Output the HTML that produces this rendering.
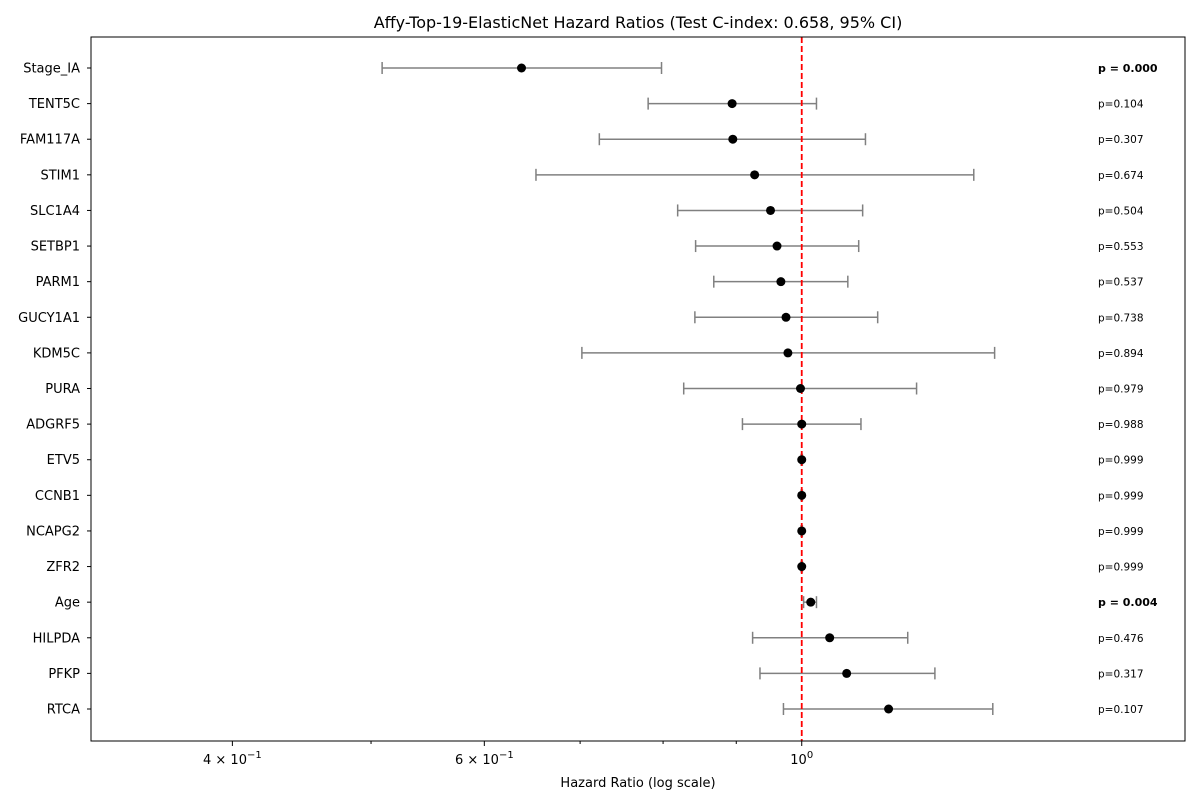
<!DOCTYPE html>
<html><head><meta charset="utf-8"><style>
body{margin:0;background:#fff;font-family:"DejaVu Sans","Liberation Sans",sans-serif;}
svg text{font-family:"DejaVu Sans","Liberation Sans",sans-serif;}
</style></head><body>
<svg id="chart" width="1200" height="800" viewBox="0 0 1200 800" xmlns="http://www.w3.org/2000/svg">
<text x="638" y="28" font-size="16" text-anchor="middle">Affy-Top-19-ElasticNet Hazard Ratios (Test C-index: 0.658, 95% CI)</text>
<text x="638" y="787" font-size="13" text-anchor="middle">Hazard Ratio (log scale)</text>
<g id="plot"></g>
<rect x="91" y="37" width="1094" height="704" fill="none" stroke="#000" stroke-width="1"/>
</svg>
<script>
const features=["Stage_IA","TENT5C","FAM117A","STIM1","SLC1A4","SETBP1","PARM1","GUCY1A1","KDM5C","PURA","ADGRF5","ETV5","CCNB1","NCAPG2","ZFR2","Age","HILPDA","PFKP","RTCA"];
const hr=[0.637,0.894,0.895,0.927,0.951,0.961,0.967,0.975,0.978,0.998,1.0,1.0,1.0,1.0,1.0,1.0146,1.046,1.075,1.150];
const ciLow=[0.509,0.781,0.722,0.652,0.819,0.843,0.868,0.842,0.702,0.827,0.909,0.999,0.999,0.999,0.999,1.003,0.924,0.935,0.971];
const ciHigh=[0.798,1.024,1.108,1.319,1.103,1.096,1.077,1.130,1.364,1.203,1.100,1.001,1.001,1.001,1.001,1.024,1.186,1.239,1.360];
const pvals=["0.000","0.104","0.307","0.674","0.504","0.553","0.537","0.738","0.894","0.979","0.988","0.999","0.999","0.999","0.999","0.004","0.476","0.317","0.107"];
const majorTicks=[0.4,0.6,1.0];
const majorLabels=["4 × 10","6 × 10","10"];
const majorExp=["−1","−1","0"];
const minorTicks=[0.5,0.7,0.8,0.9];

const NS="http://www.w3.org/2000/svg";
const g=document.getElementById('plot');
const L=91,R=1185,T=37,B=741;
const xmin=Math.log10(0.3186),xmax=Math.log10(1.853);
const x=v=>L+(Math.log10(v)-xmin)/(xmax-xmin)*(R-L);
const y=i=>68+i*(709-68)/(features.length-1);
function mk(tag,attrs){const e=document.createElementNS(NS,tag);for(const k in attrs)e.setAttribute(k,attrs[k]);g.appendChild(e);return e;}

majorTicks.forEach((t,i)=>{
  const l=mk('line',{x1:x(t),x2:x(t),y1:B,y2:B+5,stroke:'#000'});
  
  
  const tx=mk('text',{x:x(t),y:B+23,'font-size':13,'text-anchor':'middle'});
  
  
  tx.textContent=majorLabels[i];
  const sp=document.createElementNS(NS,'tspan');sp.setAttribute('dy','-6');sp.setAttribute('font-size','10');sp.textContent=majorExp[i];tx.appendChild(sp);
});
minorTicks.forEach(t=>{
  const l=mk('line',{x1:x(t),x2:x(t),y1:B,y2:B+3,stroke:'#000'});
  
  
});

features.forEach((f,i)=>{
  const yy=y(i);
  const tk=mk('line',{x1:L-4,x2:L,y1:yy,y2:yy,stroke:'#000'});
  
  
  const lab=mk('text',{x:L-11,y:yy+4.5,'font-size':13,'text-anchor':'end'});
  
  
  lab.textContent=f;
  const ln=mk('line',{x1:x(ciLow[i]),x2:x(ciHigh[i]),y1:yy,y2:yy,stroke:'#808080','stroke-width':1.5});
  
  
  [ciLow[i],ciHigh[i]].forEach(c=>{
    const cp=mk('line',{x1:x(c),x2:x(c),y1:yy-6,y2:yy+6,stroke:'#808080','stroke-width':1.5});
    
    
  });
});
const ref=mk('line',{x1:x(1),x2:x(1),y1:T,y2:B,stroke:'#ff0000','stroke-width':1.8,'stroke-dasharray':'6,3'});


features.forEach((f,i)=>{
  const yy=y(i);
  const pt=mk('circle',{cx:x(hr[i]),cy:yy,r:4.5,fill:'#000'});
  
  
  const sig=parseFloat(pvals[i])<0.05;
  const pt2=mk('text',{x:1098,y:yy+4,'font-size':sig?11:10.5,'font-weight':sig?'bold':'normal'});
  
  
  pt2.textContent=sig?('p = '+pvals[i]):('p='+pvals[i]);
});
</script>
</body></html>
